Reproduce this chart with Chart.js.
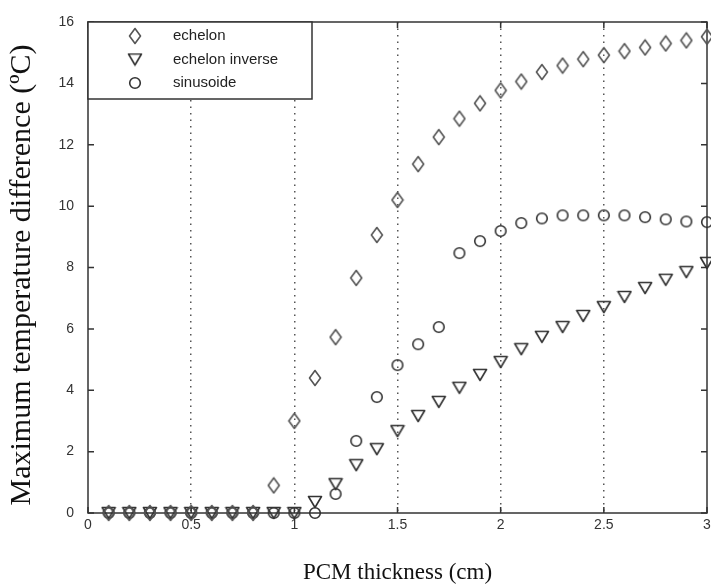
<!DOCTYPE html>
<html>
<head>
<meta charset="utf-8">
<script src="https://cdn.jsdelivr.net/npm/chart.js@4.4.0/dist/chart.umd.min.js"></script>
<style>
  html, body { margin: 0; padding: 0; background: #fff; }
</style>
</head>
<body>
<canvas id="miGrafico" width="711" height="586"></canvas>
<script>
// datos (espesor PCM en cm, diferencia maxima en ºC)
let espesor = [0.1, 0.2, 0.3, 0.4, 0.5, 0.6, 0.7, 0.8, 0.9, 1.0,
               1.1, 1.2, 1.3, 1.4, 1.5, 1.6, 1.7, 1.8, 1.9, 2.0,
               2.1, 2.2, 2.3, 2.4, 2.5, 2.6, 2.7, 2.8, 2.9, 3.0];
let echelon = [0, 0, 0, 0, 0, 0, 0, 0, 0.9, 3.0,
               4.4, 5.73, 7.66, 9.06, 10.2, 11.37, 12.25, 12.85, 13.35, 13.77,
               14.06, 14.37, 14.58, 14.79, 14.92, 15.05, 15.17, 15.3, 15.4, 15.52];
let echelonInverse = [0, 0, 0, 0, 0, 0, 0, 0, 0, 0,
                      0.36, 0.94, 1.56, 2.08, 2.67, 3.16, 3.62, 4.08, 4.5, 4.92,
                      5.34, 5.74, 6.06, 6.42, 6.71, 7.04, 7.33, 7.6, 7.85, 8.15];
let sinusoide = [0, 0, 0, 0, 0, 0, 0, 0, 0, 0,
                 0, 0.62, 2.35, 3.78, 4.82, 5.5, 6.06, 8.47, 8.86, 9.19,
                 9.45, 9.6, 9.7, 9.7, 9.7, 9.7, 9.64, 9.57, 9.5, 9.48];
let nombres = ['echelon', 'echelon inverse', 'sinusoide'];
let ticksX = [0, 0.5, 1, 1.5, 2, 2.5, 3];
let ticksY = [0, 2, 4, 6, 8, 10, 12, 14, 16];

let sans = '"Liberation Sans", Arial, sans-serif';
let serif = '"Liberation Serif", "Times New Roman", serif';

// marcadores huecos estilo matlab
let hacerMarcador = (w, h, color, dibujar) => {
    let c = document.createElement('canvas');
    c.width = w;
    c.height = h;
    let g = c.getContext('2d');
    g.lineWidth = 1.6;
    g.lineJoin = 'round';
    g.strokeStyle = color;
    g.beginPath();
    dibujar(g);
    g.closePath();
    g.stroke();
    return c;
};
let rombo = hacerMarcador(14, 18, '#555', (g) => {
    g.moveTo(7, 1.5); g.lineTo(12.5, 9); g.lineTo(7, 16.5); g.lineTo(1.5, 9);
});
let triangulo = hacerMarcador(16, 14, '#333', (g) => {
    g.moveTo(1.5, 1.5); g.lineTo(14.5, 1.5); g.lineTo(8, 12.5);
});
let circulo = hacerMarcador(14, 14, '#333', (g) => {
    g.arc(7, 7, 5.3, 0, Math.PI * 2);
});

let puntos = (serie) => espesor.map((x, i) => ({x: x, y: serie[i]}));

// caja con marcas hacia dentro
let marco = {
    id: 'marco',
    beforeDatasetsDraw: (chart) => {
        let ctx = chart.ctx;
        let a = chart.chartArea;
        let sx = chart.scales.x;
        let sy = chart.scales.y;
        ctx.save();
        ctx.strokeStyle = '#333';
        ctx.lineWidth = 1.5;
        ctx.strokeRect(a.left, a.top, a.right - a.left, a.bottom - a.top);
        ctx.beginPath();
        ticksX.forEach((v) => {
            let px = sx.getPixelForValue(v);
            ctx.moveTo(px, a.bottom); ctx.lineTo(px, a.bottom - 6);
            ctx.moveTo(px, a.top); ctx.lineTo(px, a.top + 6);
        });
        ticksY.forEach((v) => {
            let py = sy.getPixelForValue(v);
            ctx.moveTo(a.left, py); ctx.lineTo(a.left + 6, py);
            ctx.moveTo(a.right, py); ctx.lineTo(a.right - 6, py);
        });
        ctx.stroke();
        ctx.restore();
    }
};

// leyenda dentro del area, arriba a la izquierda
let leyenda = {
    id: 'leyenda',
    afterDatasetsDraw: (chart) => {
        let ctx = chart.ctx;
        let x0 = chart.chartArea.left;
        let y0 = chart.chartArea.top;
        ctx.save();
        ctx.fillStyle = '#fff';
        ctx.fillRect(x0, y0, 224, 77);
        ctx.strokeStyle = '#333';
        ctx.lineWidth = 1.5;
        ctx.strokeRect(x0, y0, 224, 77);
        ctx.font = '15px ' + sans;
        ctx.textBaseline = 'middle';
        ctx.fillStyle = '#222';
        chart.data.datasets.forEach((ds, i) => {
            let y = y0 + 14 + i * 23.5;
            let img = ds.pointStyle;
            ctx.drawImage(img, x0 + 47 - img.width / 2, y - img.height / 2);
            ctx.fillText(ds.label, x0 + 85, y);
        });
        ctx.restore();
    }
};

let ctx = document.getElementById('miGrafico').getContext('2d');
let miGrafico = new Chart(ctx, {
    type: 'scatter',
    data: {
        datasets: [
            {label: nombres[0], data: puntos(echelon), pointStyle: rombo, pointRadius: 7, clip: false},
            {label: nombres[1], data: puntos(echelonInverse), pointStyle: triangulo, pointRadius: 7, clip: false},
            {label: nombres[2], data: puntos(sinusoide), pointStyle: circulo, pointRadius: 7, clip: false}
        ]
    },
    options: {
        responsive: false,
        animation: false,
        layout: {autoPadding: false, padding: {top: 22, right: 4, left: 0, bottom: 0}},
        plugins: {
            legend: {display: false},
            tooltip: {enabled: false}
        },
        scales: {
            x: {
                type: 'linear',
                min: 0,
                max: 3,
                afterFit: (s) => { s.height = 73; s.paddingLeft = 0; s.paddingRight = 0; },
                afterBuildTicks: (s) => { s.ticks = ticksX.map((v) => ({value: v})); },
                ticks: {color: '#333', font: {family: sans, size: 14}, padding: 4, maxRotation: 0, autoSkip: false,
                        callback: (v) => String(v)},
                grid: {
                    drawTicks: false,
                    lineWidth: 1.5,
                    color: (c) => (c.tick && c.tick.value > 0 && c.tick.value < 3) ? '#555' : 'rgba(0,0,0,0)'
                },
                border: {display: false, dash: [1.5, 5]},
                title: {display: true, text: 'PCM thickness (cm)', color: '#111',
                        font: {family: serif, size: 23}, padding: {top: 0, bottom: -1}}
            },
            y: {
                min: 0,
                max: 16,
                afterFit: (s) => { s.width = 88; s.paddingTop = 0; s.paddingBottom = 0; },
                afterBuildTicks: (s) => { s.ticks = ticksY.map((v) => ({value: v})); },
                ticks: {color: '#333', font: {family: sans, size: 14}, padding: 6, callback: (v) => String(v)},
                grid: {display: false},
                border: {display: false},
                title: {display: true, text: 'Maximum temperature difference (ºC)  ', color: '#111',
                        font: {family: serif, size: 30}, padding: {top: 4, bottom: 0}}
            }
        }
    },
    plugins: [marco, leyenda]
});
</script>
</body>
</html>
